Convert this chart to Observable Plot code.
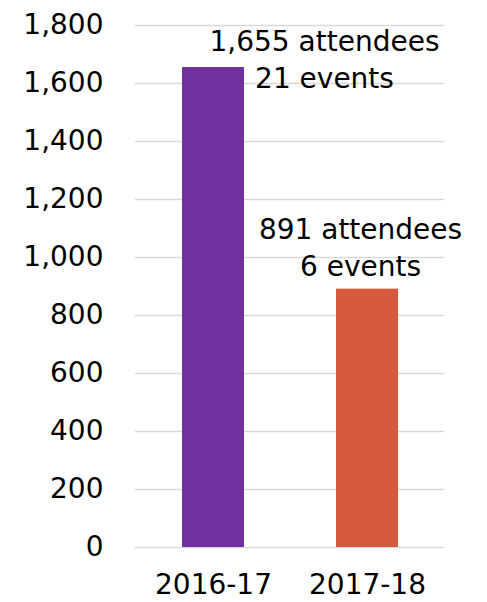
<!DOCTYPE html>
<html>
<head>
<meta charset="utf-8">
<script src="https://cdn.jsdelivr.net/npm/d3@7"></script>
<script src="https://cdn.jsdelivr.net/npm/@observablehq/plot@0.6"></script>
<style>
  html, body { margin: 0; padding: 0; background: #fff; }
  #chart svg { display: block; }
</style>
</head>
<body>
<div id="chart"></div>
<script>
const categories = ["2016-17", "2017-18"];
const attendees = [1655, 891];
const events = [21, 6];
const colors = ["#7030A0", "#D55A40"];
const yTicks = [0, 200, 400, 600, 800, 1000, 1200, 1400, 1600, 1800];

const fmt = d3.format(",");
const data = categories.map((c, i) => ({
  year: c,
  value: attendees[i],
  label: `${fmt(attendees[i])} attendees\n${events[i]} events`
}));

const font = "DejaVu Sans";
const chart = Plot.plot({
  width: 487,
  height: 602,
  marginLeft: 135,
  marginRight: 43,
  marginTop: 25,
  marginBottom: 55,
  style: { fontFamily: font, fontSize: "28px", color: "#000", background: "#fff" },
  x: { domain: categories, paddingInner: 0.6, paddingOuter: 0.3, label: null },
  y: { domain: [0, 1800], ticks: yTicks, label: null },
  color: { domain: categories, range: colors },
  marks: [
    Plot.gridY(yTicks, { stroke: "#d9d9d9", strokeOpacity: 1, strokeWidth: 1.5 }),
    Plot.axisY(yTicks, { tickSize: 0, tickPadding: 32, tickFormat: fmt, fontSize: 28, label: null }),
    Plot.axisX({ tickSize: 0, tickPadding: 27, fontSize: 28, label: null }),
    Plot.barY(data, { x: "year", y: "value", fill: "year" }),
    Plot.text(data.filter(d => d.year === categories[0]), {
      x: "year", y: "value", text: "label", fontSize: 28, lineHeight: 1.32,
      lineAnchor: "middle", dx: 111, dy: -10, fill: "#000"
    }),
    Plot.text(data.filter(d => d.year === categories[1]), {
      x: "year", y: "value", text: "label", fontSize: 28, lineHeight: 1.32,
      lineAnchor: "middle", dx: -7, dy: -43, fill: "#000"
    })
  ]
});
document.getElementById("chart").appendChild(chart);
</script>
</body>
</html>
